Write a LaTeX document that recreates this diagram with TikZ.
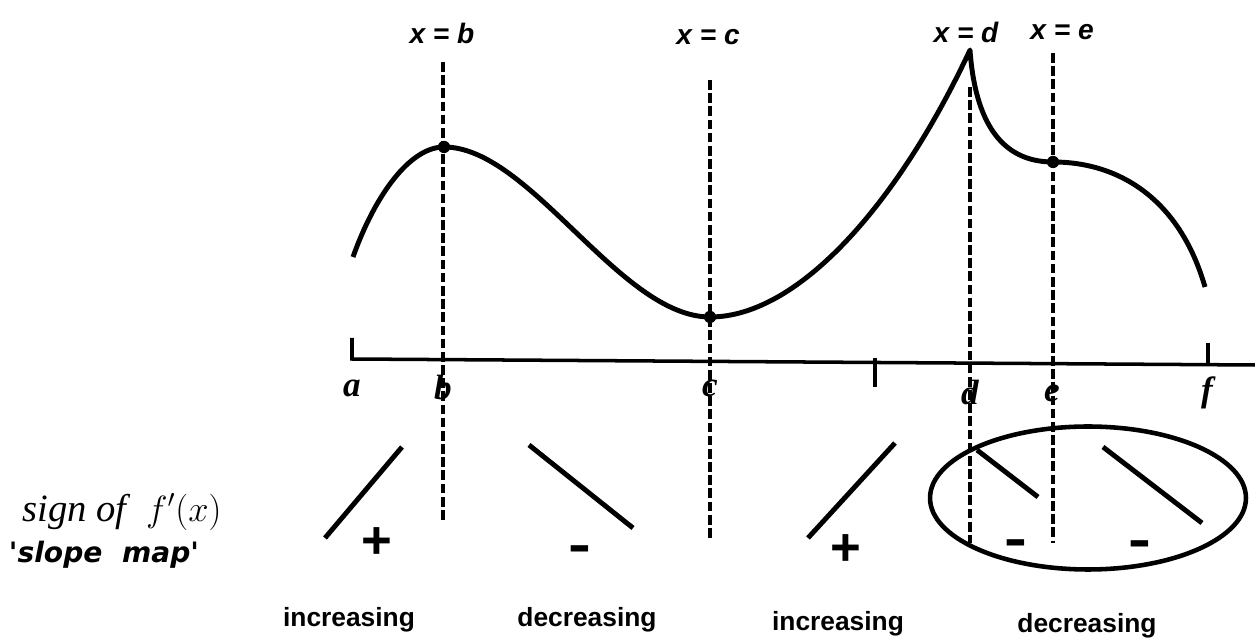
\documentclass[tikz,border=0pt]{standalone}
\usepackage{fontspec}
\setmainfont{Liberation Serif}
\setsansfont{Liberation Sans}
\newfontfamily\mapfont{DejaVu Sans}
\usetikzlibrary{positioning}

\begin{document}
\begin{tikzpicture}[
    x=0.02cm, y=-0.02cm,
    every node/.style={align=center, inner sep=0pt},
    curve/.style={line width=2.8pt, line join=round},
    axis/.style={line width=2pt},
    guide/.style={line width=2.6pt, dash pattern=on 5.5pt off 2pt},
    slope/.style={line width=2.8pt},
    oval/.style={line width=2.6pt},
    dot/.style={circle, fill=black, minimum size=7pt},
    toplabel/.style={font=\sffamily\bfseries\itshape\fontsize{16}{18}\selectfont},
    pointlabel/.style={font=\bfseries\itshape\fontsize{20}{22}\selectfont},
    sign/.style={font=\sffamily\bfseries\fontsize{30}{30}\selectfont},
    word/.style={font=\sffamily\bfseries\fontsize{15}{18}\selectfont}
  ]
  \useasboundingbox (0,0) rectangle (1255,644);

  % Axis with its ticks
  \coordinate (axisL) at (352,359);
  \coordinate (axisR) at (1255,365);
  \coordinate (tickL) at (352,338);
  \coordinate (tickMa) at (875,358);
  \coordinate (tickMb) at (875,387);
  \coordinate (tickFa) at (1208,343);
  \coordinate (tickFb) at (1208,365);
  \draw[axis] (tickL) -- (axisL) -- (axisR);
  \draw[axis] (tickMa) -- (tickMb);
  \draw[axis] (tickFa) -- (tickFb);

  % Points on the axis
  \node[pointlabel] (pa) at (352,388) {a};
  \node[pointlabel] (pb) at (443,388) {b};
  \node[pointlabel] (pc) at (710,388) {c};
  \node[pointlabel] (pd) at (970,392) {d};
  \node[pointlabel] (pe) at (1052,393) {e};
  \node[pointlabel] (pf) at (1207,393) {f};

  % The graph of f
  \coordinate (start) at (353,257);
  \node[dot] (maxb) at (444,147) {};
  \node[dot] (minc) at (710,317) {};
  \coordinate (cusp) at (970,50);
  \node[dot] (flate) at (1053,162) {};
  \coordinate (stop) at (1205,287);
  \draw[curve] (start) .. controls (375,195) and (410,147) .. (maxb.center)
    .. controls (530,147) and (620,317) .. (minc.center)
    .. controls (800,317) and (900,200) .. (cusp)
    .. controls (975,120) and (1000,162) .. (flate.center)
    .. controls (1120,162) and (1180,200) .. (stop);

  % Dashed lines x = ...
  \node[toplabel] (xb) at (442,33) {x = b};
  \node[toplabel] (xc) at (708,37) {x = c};
  \node[toplabel] (xd) at (966,32) {x = d};
  \node[toplabel] (xe) at (1062,32) {x = e};
  \coordinate (btop) at (443,62);
  \coordinate (bbot) at (443,522);
  \coordinate (ctop) at (710,80);
  \coordinate (cbot) at (710,540);
  \coordinate (dtop) at (970,87);
  \coordinate (dbot) at (970,543);
  \coordinate (etop) at (1053,53);
  \coordinate (ebot) at (1053,543);
  \draw[guide] (btop) -- (bbot);
  \draw[guide] (ctop) -- (cbot);
  \draw[guide] (dtop) -- (dbot);
  \draw[guide] (etop) -- (ebot);

  % Slope map
  \node[font=\fontsize{22}{26}\selectfont\itshape] (signof) at (122,512) {sign of\ \ $f'\bigl(x\bigr)$};
  \node[font=\mapfont\bfseries\itshape\fontsize{16}{20}\selectfont] (slopemap) at (104,555) {'slope\ \ map'};
  \coordinate (s1a) at (325,538);
  \coordinate (s1b) at (402,447);
  \coordinate (s2a) at (529,445);
  \coordinate (s2b) at (633,528);
  \coordinate (s3a) at (808,538);
  \coordinate (s3b) at (895,443);
  \coordinate (s4a) at (977,450);
  \coordinate (s4b) at (1038,497);
  \coordinate (s5a) at (1103,447);
  \coordinate (s5b) at (1202,523);
  \draw[slope] (s1a) -- (s1b);
  \draw[slope] (s2a) -- (s2b);
  \draw[slope] (s3a) -- (s3b);
  \draw[slope] (s4a) -- (s4b);
  \draw[slope] (s5a) -- (s5b);
  \node[sign] (plus1) at (377,543) {+};
  \node[sign] (minus1) at (580,554) {\scalebox{1.3}[1]{-}};
  \node[sign] (plus2) at (846,550) {+};
  \node[sign] (minus2) at (1016,548) {\scalebox{1.3}[1]{-}};
  \node[sign] (minus3) at (1140,549) {\scalebox{1.3}[1]{-}};

  % Ring round the decreasing part
  \coordinate (ovalc) at (1088,498);
  \draw[oval] (ovalc) ellipse [x radius=3.16cm, y radius=1.43cm];

  % Words below
  \node[word] (inc1) at (349,620) {increasing};
  \node[word] (dec1) at (587,620) {decreasing};
  \node[word] (inc2) at (838,624) {increasing};
  \node[word] (dec2) at (1087,626) {decreasing};
\end{tikzpicture}
\end{document}
